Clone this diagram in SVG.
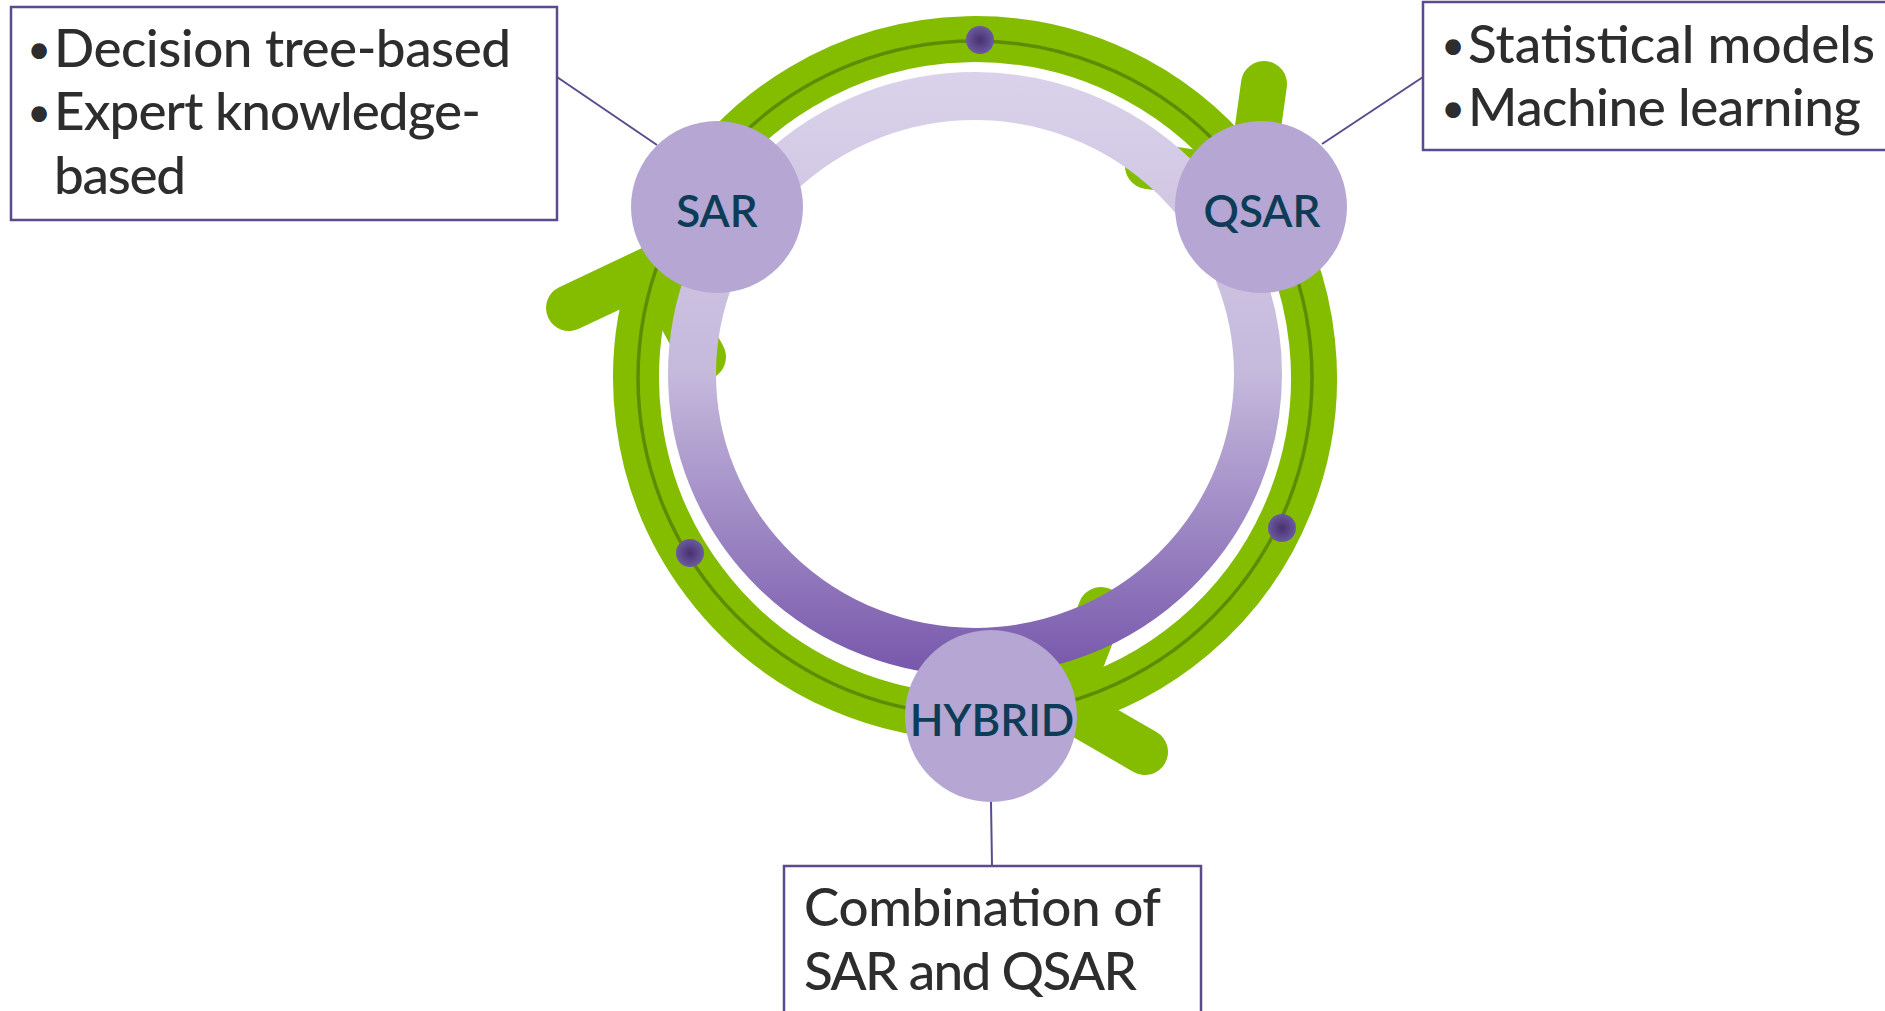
<svg xmlns="http://www.w3.org/2000/svg" width="1885" height="1011" viewBox="0 0 1885 1011">
  <defs>
    <!-- inner band shades from pale lilac at the top to deep violet at the bottom -->
    <linearGradient id="bandGrad" gradientUnits="userSpaceOnUse" x1="0" y1="72" x2="0" y2="676">
      <stop offset="0" stop-color="#dad2ea"/>
      <stop offset="0.5" stop-color="#c5b9dc"/>
      <stop offset="1" stop-color="#7656ab"/>
    </linearGradient>
    <radialGradient id="dotGrad">
      <stop offset="0" stop-color="#47306f"/>
      <stop offset="1" stop-color="#6b5a9f"/>
    </radialGradient>
  </defs>
  <style>
    .shaft{fill:none;stroke:#84bd00;stroke-width:46}
    .barb{fill:none;stroke:#84bd00;stroke-width:46;stroke-linecap:round;stroke-linejoin:round}
    .track{fill:none;stroke:#5e8c00;stroke-width:3.5}
    .dot{fill:url(#dotGrad)}
    .leader{fill:none;stroke:#5b4a8c;stroke-width:2}
    .node circle{fill:#b5a6d3}
    .node text{font-family:Lato,"Open Sans",sans-serif;font-size:44px;font-weight:600;fill:#0d3c57;text-anchor:middle}
    .box rect{fill:#fff;stroke:#5b4a8c;stroke-width:2.5}
    .box text{font-family:Lato,"Open Sans",sans-serif;font-size:53px;font-weight:500;fill:#2d2d2d}
    .box text.bullet{font-size:40px;text-anchor:middle}
  </style>

  <rect width="1885" height="1011" fill="#fff"/>

  <g id="connectors">
    <!-- cycle arrows: arc shaft + V-shaped head, ring centre (975,378) r=339 -->
    <g id="arrow-sar-qsar">
      <path class="shaft" d="M690.7 193.4 A339 339 0 0 1 1250.6 180.7"/>
      <path class="barb" d="M1264 84 L1250.6 180.7 L1148 166"/>
    </g>
    <g id="arrow-qsar-hybrid">
      <path class="shaft" d="M1265.6 203.4 A339 339 0 0 1 1063.9 705.1"/>
      <path class="barb" d="M1145 752 L1063.9 705.1 L1101 610"/>
    </g>
    <g id="arrow-hybrid-sar">
      <path class="shaft" d="M992.7 716.5 A339 339 0 0 1 654.5 267.6"/>
      <path class="barb" d="M569 308 L654.5 267.6 L703 357"/>
    </g>
    <!-- thin track line running along the arrow shafts -->
    <circle class="track" cx="975" cy="378" r="337"/>
    <circle class="dot" cx="980" cy="40" r="14"/>
    <circle class="dot" cx="1282" cy="528" r="14"/>
    <circle class="dot" cx="690" cy="553" r="14"/>
    <!-- leader lines from nodes to their description boxes -->
    <line class="leader" x1="557" y1="77" x2="657" y2="145"/>
    <line class="leader" x1="1322" y1="144" x2="1423" y2="77"/>
    <line class="leader" x1="991" y1="802" x2="992" y2="866"/>
  </g>

  <!-- inner gradient band -->
  <ellipse id="inner-band" cx="975" cy="374" rx="283" ry="278" fill="none" stroke="url(#bandGrad)" stroke-width="48"/>

  <g id="node-sar" class="node">
    <circle cx="717" cy="207" r="86"/>
    <text x="717" y="227">SAR</text>
  </g>
  <g id="node-qsar" class="node">
    <circle cx="1261" cy="207" r="86"/>
    <text x="1262" y="227">QSAR</text>
  </g>
  <g id="node-hybrid" class="node">
    <circle cx="991" cy="716" r="86"/>
    <text x="992" y="736">HYBRID</text>
  </g>

  <g id="box-sar" class="box">
    <rect x="11" y="7" width="546" height="213"/>
    <text class="bullet" x="39" y="63">•</text>
    <text x="54" y="67" textLength="457">Decision tree-based</text>
    <text class="bullet" x="39" y="126">•</text>
    <text x="54" y="130" textLength="427">Expert knowledge-</text>
    <text x="54" y="194" textLength="132">based</text>
  </g>
  <g id="box-qsar" class="box">
    <rect x="1423" y="2" width="470" height="148"/>
    <text class="bullet" x="1453" y="59">•</text>
    <text x="1468" y="63" textLength="407">Statistical models</text>
    <text class="bullet" x="1453" y="122">•</text>
    <text x="1468" y="126" textLength="393">Machine learning</text>
  </g>
  <g id="box-hybrid" class="box">
    <rect x="784" y="866" width="417" height="160"/>
    <text x="804" y="926" textLength="357">Combination of</text>
    <text x="804" y="990" textLength="333">SAR and QSAR</text>
  </g>
</svg>
